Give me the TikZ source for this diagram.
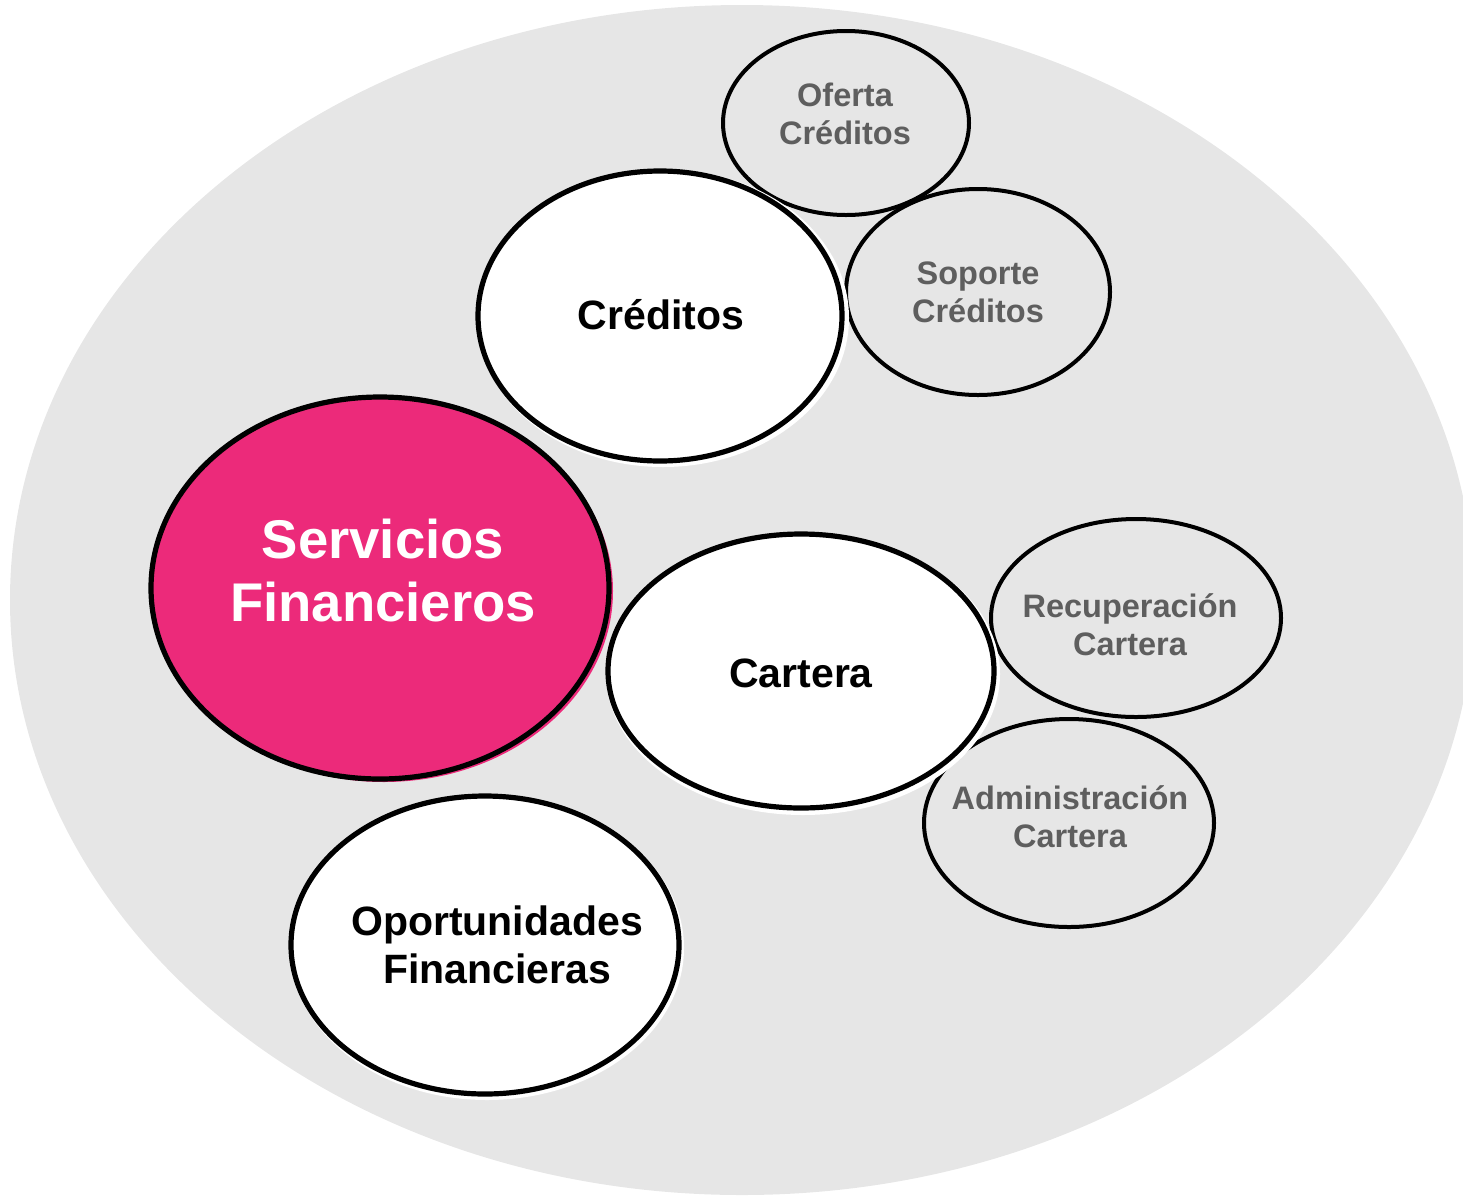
\documentclass[tikz,border=0pt]{standalone}
\usepackage{fontspec}
\setmainfont{Liberation Sans}
\usetikzlibrary{shapes.geometric}
\definecolor{bg}{HTML}{E6E6E6}
\definecolor{pinkf}{HTML}{EC2A7A}
\definecolor{lbl}{HTML}{5E5E5E}
\begin{document}
\begin{tikzpicture}[x=1pt,y=-1pt,
  bub/.style={ellipse, draw=black, line width=5.2pt, inner sep=0pt},
  bigbub/.style={bub, fill=white},
  smallbub/.style={bub, line width=4pt, fill=bg},
  bigtxt/.style={font=\bfseries\fontsize{41}{48}\selectfont, align=center, text=black, inner sep=0pt},
  smalltxt/.style={font=\bfseries\fontsize{32.5}{38}\selectfont, align=center, text=lbl, inner sep=0pt},
  heroTxt/.style={font=\bfseries\fontsize{54.5}{63}\selectfont, align=center, text=white, inner sep=0pt}]
\useasboundingbox (0,0) rectangle (1463,1197);
% background
\fill[bg] (742,600) ellipse [x radius=732, y radius=595];

% small bubbles
\node[smallbub, minimum width=246pt, minimum height=184pt] (oferta) at (846,123) {};
\node[smallbub, minimum width=264pt, minimum height=206pt] (soporte) at (978,292) {};
\node[smallbub, minimum width=290pt, minimum height=198pt] (recup) at (1136,618) {};
\node[smallbub, minimum width=290pt, minimum height=208pt] (admin) at (1069,823) {};

% white halos
\fill[white] (663,318) ellipse [x radius=186, y radius=149];
\fill[white] (803,674) ellipse [x radius=197, y radius=141];
\fill[white] (487,948) ellipse [x radius=197, y radius=152];
\fill[pinkf] (384,591) ellipse [x radius=229, y radius=191];

% big bubbles
\node[bigbub, minimum width=364pt, minimum height=290pt] (creditos) at (660,316) {};
\node[bub, fill=pinkf, minimum width=458pt, minimum height=382pt] (servicios) at (380,588) {};
\node[bigbub, minimum width=386pt, minimum height=274pt] (cartera) at (801,671) {};
\node[bigbub, minimum width=388pt, minimum height=298pt] (oport) at (485,945) {};

% texts
\node[heroTxt] (serviciosT) at (383,571) {Servicios\\Financieros};
\node[bigtxt] (creditosT) at (661,315) {Créditos};
\node[bigtxt] (carteraT) at (801,673) {Cartera};
\node[bigtxt] (oportT) at (497,945) {Oportunidades\\Financieras};
\node[smalltxt] (ofertaT) at (845,114) {Oferta\\Créditos};
\node[smalltxt] (soporteT) at (978,292) {Soporte\\Créditos};
\node[smalltxt] (recupT) at (1130,625) {Recuperación\\Cartera};
\node[smalltxt] (adminT) at (1070,817) {Administración\\Cartera};
\end{tikzpicture}
\end{document}
